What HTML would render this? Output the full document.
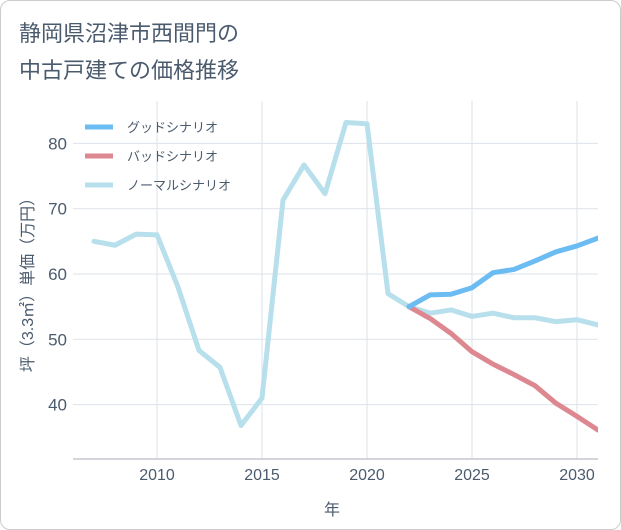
<!DOCTYPE html>
<html><head><meta charset="utf-8"><style>
body{margin:0;background:#fff;font-family:"Liberation Sans","Noto Sans CJK JP",sans-serif;}
#wrap{position:relative;width:619px;height:528px;border:1px solid #ccc;border-radius:10px;overflow:hidden;}
</style></head><body>
<div id="wrap">
<svg id="chart" width="621" height="530">
<defs><clipPath id="pc"><rect x="72" y="95" width="525" height="365"/></clipPath></defs>
<text x="18" y="40" font-size="22" fill="#4b5b6e">静岡県沼津市西間門の</text>
<text x="18" y="77" font-size="22" fill="#4b5b6e">中古戸建ての価格推移</text>
<g id="grid"></g><g id="series" clip-path="url(#pc)"></g><g id="legend"></g>
<text x="331" y="514" font-size="16" fill="#4b5b6e" text-anchor="middle">年</text>
<text transform="translate(32,280) rotate(-90)" font-size="16" fill="#4b5b6e" text-anchor="middle">坪（3.3㎡）単価（万円）</text>
</svg></div>
<script>
const years=[2007,2008,2009,2010,2011,2012,2013,2014,2015,2016,2017,2018,2019,2020,2021,2022,2023,2024,2025,2026,2027,2028,2029,2030,2031];
const normal=[65,64.4,66.1,66,58,48.3,45.7,36.8,41,71.3,76.7,72.3,83.2,83,57,55,54,54.5,53.5,54,53.3,53.3,52.7,53,52.2];
const futYears=[2022,2023,2024,2025,2026,2027,2028,2029,2030,2031];
const good=[55,56.8,56.9,57.9,60.2,60.7,62,63.4,64.3,65.5];
const bad=[55,53.2,50.9,48.1,46.2,44.6,42.9,40.2,38.2,36.1];
const xTicks=[2010,2015,2020,2025,2030];
const yTicks=[40,50,60,70,80];
const X=y=>156+(y-2010)*21, Y=v=>273-(v-60)*6.53;
const NS='http://www.w3.org/2000/svg';
function mk(p,t,a){const e=document.createElementNS(NS,t);for(const k in a)e.setAttribute(k,a[k]);p.appendChild(e);return e;}
const g=document.getElementById('grid');
xTicks.forEach(t=>{const l=mk(g,'line',{x1:X(t),x2:X(t),y1:100,y2:458,stroke:'#dde3ea'});


const tx=mk(g,'text',{x:X(t),y:479,'font-size':16,fill:'#4b5b6e','text-anchor':'middle'});tx.textContent=t;

});
yTicks.forEach(t=>{const l=mk(g,'line',{x1:72,x2:597,y1:Y(t),y2:Y(t),stroke:'#dde3ea'});


const tx=mk(g,'text',{x:66,y:Y(t)+6,'font-size':17,fill:'#4b5b6e','text-anchor':'end'});tx.textContent=t;

});
const ax=mk(g,'line',{x1:72,x2:597,y1:458,y2:458,stroke:'#aab'});


const s=document.getElementById('series');
function line(xs,vs,c,n){const p=mk(s,'polyline',{points:xs.map((x,i)=>X(x)+','+Y(vs[i])).join(' '),fill:'none',stroke:c,'stroke-width':5,'stroke-linejoin':'round','stroke-linecap':'round'});

}
line(years,normal,'#b7dfec','normal-line');
line(futYears,bad,'#dd8890','bad-line');
line(futYears,good,'#6bbcf2','good-line');
const lg=document.getElementById('legend');
[['グッドシナリオ','#6bbcf2','legend-good'],['バッドシナリオ','#dd8890','legend-bad'],['ノーマルシナリオ','#b7dfec','legend-normal']].forEach((d,i)=>{
const y=126+i*29;const l=mk(lg,'line',{x1:84,x2:112,y1:y,y2:y,stroke:d[1],'stroke-width':5});


const t=mk(lg,'text',{x:126,y:y+5,'font-size':13,fill:'#4b5b6e'});t.textContent=d[0];

});
</script></body></html>
